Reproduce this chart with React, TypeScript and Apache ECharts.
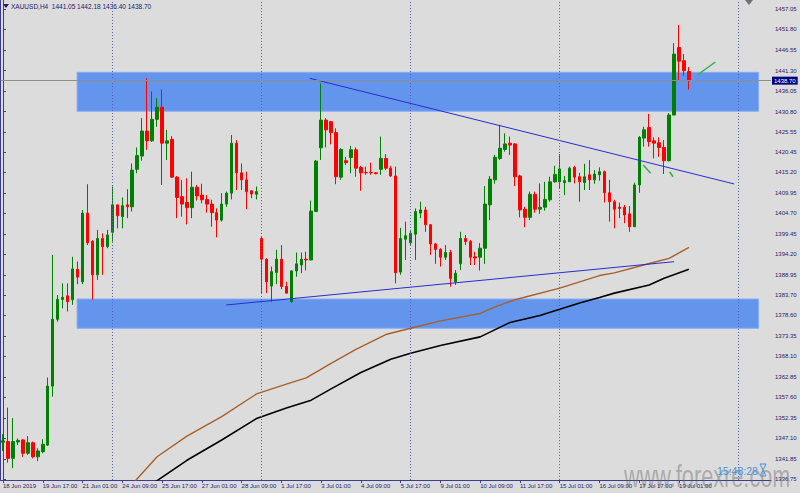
import React, { useEffect, useRef } from "react";
import * as echarts from "echarts";

// ---------- data ----------
const BAR_SLOTS = 155; // 139 H4 bars + empty shift area on the right

const xLabels = [
  "18 Jun 2019", "19 Jun 17:00", "21 Jun 01:00", "24 Jun 09:00", "25 Jun 17:00",
  "27 Jun 01:00", "28 Jun 09:00", "1 Jul 17:00", "3 Jul 01:00", "4 Jul 09:00",
  "5 Jul 17:00", "9 Jul 01:00", "10 Jul 09:00", "11 Jul 17:00", "15 Jul 01:00",
  "16 Jul 09:00", "17 Jul 17:00", "19 Jul 01:00",
];

const yTicks = [
  1457.05, 1451.8, 1446.55, 1441.3, 1436.05, 1430.8, 1425.55, 1420.45, 1415.2,
  1409.95, 1404.7, 1399.45, 1394.2, 1388.95, 1383.7, 1378.6, 1373.35, 1368.1,
  1362.85, 1357.6, 1352.35, 1347.1, 1341.85, 1336.75,
];
const Y_MIN = 1336.46;
const Y_MAX = 1459.35;

// [open, high, low, close]
const ohlc: number[][] = [
  [1346.1, 1348.2, 1343.9, 1346.5], [1346.3, 1355.0, 1340.9, 1342.0], [1342.0, 1352.3, 1339.5, 1346.3],
  [1346.2, 1347.1, 1345.4, 1346.6], [1346.7, 1347.0, 1342.4, 1343.3], [1343.3, 1347.7, 1342.9, 1346.0],
  [1346.0, 1346.3, 1342.0, 1342.4], [1342.4, 1344.6, 1341.3, 1343.9], [1343.7, 1346.9, 1343.3, 1345.6],
  [1345.4, 1362.7, 1345.2, 1360.5], [1360.5, 1394.1, 1357.8, 1377.6], [1377.6, 1383.8, 1377.0, 1382.7],
  [1382.7, 1386.8, 1380.4, 1383.2], [1383.6, 1386.8, 1379.6, 1382.1], [1382.6, 1393.6, 1381.3, 1390.5],
  [1390.4, 1392.4, 1386.6, 1388.4], [1387.2, 1405.6, 1386.6, 1404.8], [1404.8, 1412.2, 1396.6, 1397.2],
  [1397.5, 1397.9, 1382.6, 1389.0], [1389.0, 1400.5, 1387.7, 1398.3], [1398.3, 1399.6, 1389.0, 1396.2],
  [1396.2, 1400.5, 1395.8, 1399.2], [1399.9, 1411.6, 1397.5, 1406.9], [1406.9, 1406.9, 1400.9, 1404.1],
  [1403.9, 1408.8, 1400.9, 1406.7], [1406.9, 1410.9, 1403.5, 1406.4], [1406.4, 1417.5, 1405.2, 1415.8],
  [1416.0, 1421.6, 1415.0, 1419.5], [1419.4, 1429.1, 1418.2, 1425.8], [1425.8, 1439.3, 1421.0, 1423.3],
  [1423.3, 1435.9, 1423.0, 1428.8], [1428.8, 1434.2, 1426.9, 1431.9], [1431.9, 1436.5, 1412.0, 1422.7],
  [1422.7, 1426.1, 1418.4, 1423.3], [1423.7, 1424.5, 1413.8, 1414.0], [1414.0, 1414.3, 1403.5, 1408.8],
  [1409.0, 1413.3, 1403.9, 1407.1], [1407.5, 1413.7, 1401.9, 1406.2], [1406.2, 1415.4, 1403.5, 1411.4],
  [1411.4, 1412.0, 1408.0, 1409.2], [1409.4, 1412.3, 1407.3, 1408.2], [1408.3, 1409.4, 1404.9, 1407.1],
  [1407.1, 1408.2, 1401.3, 1404.9], [1404.9, 1406.0, 1398.6, 1403.0], [1403.0, 1409.9, 1402.6, 1407.1],
  [1407.1, 1410.3, 1406.4, 1409.9], [1409.9, 1424.8, 1408.3, 1422.7], [1422.7, 1423.5, 1410.7, 1415.1],
  [1415.1, 1417.5, 1410.7, 1413.3], [1413.3, 1415.4, 1405.8, 1410.3], [1410.5, 1410.6, 1408.6, 1409.7],
  [1409.6, 1411.6, 1408.3, 1410.3], [1398.3, 1398.9, 1384.3, 1393.0], [1393.0, 1393.2, 1384.3, 1387.2],
  [1386.1, 1391.1, 1382.1, 1389.8], [1389.6, 1395.4, 1386.6, 1393.0], [1393.0, 1396.6, 1385.3, 1386.0],
  [1386.0, 1387.2, 1384.2, 1384.3], [1382.1, 1390.1, 1381.9, 1390.0], [1390.0, 1394.7, 1388.5, 1391.8],
  [1391.5, 1394.7, 1389.4, 1393.0], [1393.0, 1394.9, 1390.1, 1392.8], [1392.8, 1408.0, 1392.7, 1405.3],
  [1405.2, 1418.4, 1405.1, 1418.1], [1421.5, 1438.0, 1418.4, 1428.6], [1428.6, 1429.1, 1421.6, 1426.1],
  [1428.2, 1428.4, 1422.4, 1425.4], [1425.4, 1426.5, 1412.2, 1414.1], [1414.0, 1421.4, 1413.3, 1421.1],
  [1418.2, 1419.2, 1417.1, 1417.7], [1419.0, 1422.0, 1415.0, 1421.0], [1421.0, 1421.6, 1414.1, 1416.3],
  [1416.5, 1416.9, 1410.5, 1415.1], [1415.2, 1416.7, 1414.6, 1415.1], [1415.2, 1417.7, 1414.6, 1415.1],
  [1415.1, 1415.3, 1414.7, 1414.9], [1416.0, 1424.4, 1414.6, 1418.8], [1418.8, 1419.9, 1415.8, 1416.3],
  [1416.3, 1416.9, 1414.1, 1414.3], [1414.3, 1416.7, 1386.8, 1389.5], [1389.7, 1401.0, 1389.0, 1398.3],
  [1398.1, 1402.6, 1392.8, 1399.0], [1397.2, 1400.5, 1396.6, 1399.6], [1399.4, 1406.0, 1392.8, 1405.2],
  [1404.8, 1407.7, 1403.5, 1405.6], [1405.6, 1406.4, 1400.0, 1401.8], [1401.8, 1402.0, 1394.1, 1396.9],
  [1396.9, 1397.2, 1391.8, 1395.5], [1395.5, 1395.8, 1391.1, 1393.5], [1393.5, 1396.6, 1392.8, 1394.7],
  [1394.7, 1395.4, 1386.0, 1388.1], [1387.2, 1390.2, 1386.4, 1389.4], [1391.8, 1400.0, 1390.2, 1398.3],
  [1398.3, 1399.2, 1396.6, 1397.5], [1397.5, 1397.9, 1391.5, 1393.5], [1393.6, 1394.9, 1391.5, 1393.3],
  [1393.5, 1397.1, 1390.1, 1395.8], [1395.8, 1411.7, 1391.8, 1407.1], [1406.9, 1414.3, 1403.0, 1413.5],
  [1413.3, 1419.7, 1412.3, 1419.1], [1418.8, 1427.4, 1418.4, 1421.4], [1421.1, 1425.2, 1420.5, 1422.5],
  [1422.7, 1424.4, 1419.7, 1422.2], [1422.5, 1422.7, 1411.7, 1414.1], [1414.3, 1414.6, 1403.7, 1405.6],
  [1405.8, 1406.4, 1401.2, 1403.7], [1403.7, 1410.3, 1403.0, 1409.6], [1409.6, 1410.3, 1404.9, 1405.8],
  [1405.8, 1412.4, 1404.6, 1406.3], [1406.3, 1412.8, 1405.4, 1408.3], [1408.2, 1414.1, 1407.7, 1412.8],
  [1412.8, 1416.9, 1412.6, 1414.7], [1412.8, 1419.9, 1411.1, 1416.1], [1412.6, 1414.3, 1409.4, 1413.1],
  [1412.8, 1416.7, 1412.8, 1416.3], [1416.5, 1416.9, 1412.4, 1414.0], [1414.1, 1415.1, 1407.7, 1412.8],
  [1412.6, 1417.4, 1410.7, 1414.1], [1414.6, 1418.4, 1410.7, 1413.3], [1413.3, 1415.8, 1412.3, 1414.8],
  [1414.6, 1416.5, 1413.1, 1415.4], [1415.4, 1415.7, 1407.5, 1410.0], [1410.0, 1413.3, 1402.6, 1407.7],
  [1407.7, 1408.2, 1400.9, 1405.8], [1406.3, 1407.5, 1403.5, 1406.0], [1406.3, 1406.9, 1402.2, 1404.3],
  [1404.6, 1406.6, 1400.0, 1401.3], [1401.3, 1412.6, 1401.3, 1412.0], [1412.0, 1424.5, 1410.0, 1424.2],
  [1424.0, 1426.9, 1421.8, 1426.1], [1426.7, 1430.2, 1421.8, 1423.1], [1423.3, 1424.2, 1418.8, 1422.7],
  [1422.8, 1424.2, 1419.2, 1421.6], [1421.6, 1423.5, 1414.8, 1418.2], [1418.2, 1430.4, 1418.0, 1429.9],
  [1429.9, 1448.3, 1429.9, 1445.5], [1447.2, 1453.0, 1438.7, 1443.7], [1443.8, 1445.5, 1439.9, 1441.25],
  [1441.05, 1442.18, 1436.4, 1438.7],
];

// moving averages read at sample bars: [bar index, price]
const maBrown: number[][] = [
  [26, 1335.4], [27, 1336.8], [31, 1342.4], [37, 1347.7], [44, 1352.7], [51, 1358.5], [57, 1361.0],
  [61, 1362.6], [66, 1366.3], [71, 1369.9], [77, 1373.7], [82, 1375.3], [88, 1377.2], [96, 1379.1],
  [99, 1380.8], [103, 1382.6], [112, 1385.6], [120, 1388.8], [123, 1389.5], [130, 1391.9],
  [134, 1393.2], [138, 1396.0],
];
const maBlack: number[][] = [
  [30, 1335.4], [31, 1336.3], [37, 1341.5], [44, 1346.7], [51, 1352.2], [57, 1354.9], [62, 1356.9],
  [66, 1359.8], [72, 1364.0], [78, 1367.4], [82, 1368.9], [88, 1370.9], [96, 1373.1], [102, 1376.8],
  [108, 1378.6], [116, 1381.8], [120, 1383.2], [123, 1384.3], [130, 1386.4], [133, 1388.1],
  [138, 1390.4],
];

const trendDown: number[][] = [[61.7, 1439.3], [147.1, 1412.25]];
const trendUp: number[][] = [[44.9, 1381.27], [135.0, 1392.35]];

// supply / demand zones: [start bar, end bar, top price, bottom price]
const zones: number[][] = [
  [14.9, 152.0, 1440.84, 1430.86],
  [14.9, 152.0, 1382.8, 1375.3],
];

const separators = [22, 52, 82, 112, 148];
const lastPrice = 1438.7;

// arrows: [tail bar, tail price, head bar, head price]
const arrows: number[][] = [
  [143.3, 1443.48, 139.7, 1440.15],
  [130.3, 1414.98, 128.8, 1417.11],
  [134.8, 1414.11, 134.1, 1415.39],
];

// ---------- styling ----------
const BG = "#DCDCDC";
const AXIS = "#3b3b94";
const LABEL = "#23236e";
const FONT = "Liberation Sans";

export default function App() {
  const ref = useRef<HTMLDivElement>(null);

  useEffect(() => {
    document.body.style.margin = "0";
    const chart = echarts.init(ref.current!, null, { renderer: "svg" });
    const categories = Array.from({ length: BAR_SLOTS }, (_, i) => String(i));
    const showLabel = (i: number) => i % 8 === 0 && i / 8 < xLabels.length;

    const option: any = {
      animation: false,
      backgroundColor: BG,
      grid: { left: 0, right: 29, top: 0, bottom: 13, containLabel: false },
      xAxis: [
        {
          type: "category",
          data: categories,
          boundaryGap: true,
          axisLine: { show: true, lineStyle: { color: AXIS, width: 1 } },
          axisTick: {
            show: true,
            interval: (i: number) => showLabel(i),
            alignWithLabel: true,
            length: 3,
            lineStyle: { color: AXIS },
          },
          axisLabel: {
            show: true,
            interval: (i: number) => showLabel(i),
            formatter: (v: string) => xLabels[Number(v) / 8] ?? "",
            align: "left",
            margin: 3,
            fontSize: 6,
            color: LABEL,
            fontFamily: FONT,
          },
          splitLine: { show: false },
        },
        { type: "value", min: -0.5, max: BAR_SLOTS - 0.5, show: false },
      ],
      yAxis: [
        {
          type: "value",
          position: "right",
          min: Y_MIN,
          max: Y_MAX,
          axisLine: { show: true, lineStyle: { color: AXIS, width: 1 } },
          axisTick: { show: true, customValues: yTicks, length: 3, lineStyle: { color: AXIS } },
          axisLabel: {
            customValues: yTicks,
            formatter: (v: number) => v.toFixed(2),
            fontSize: 6,
            margin: 4,
            color: LABEL,
            fontFamily: FONT,
          },
          splitLine: { show: false },
        },
        {
          type: "value",
          position: "left",
          min: Y_MIN,
          max: Y_MAX,
          axisLine: { show: true, lineStyle: { color: AXIS, width: 1 } },
          axisTick: { show: false },
          axisLabel: { show: false },
          splitLine: { show: false },
        },
      ],
      series: [
        {
          name: "zones",
          type: "line",
          xAxisIndex: 1,
          yAxisIndex: 0,
          data: [[-10, 1300]],
          showSymbol: false,
          lineStyle: { opacity: 0 },
          silent: true,
          markArea: {
            silent: true,
            itemStyle: { color: "#6495ED", borderColor: "#8aadf2", borderWidth: 1 },
            data: zones.map((z) => [{ coord: [z[0], z[2]] }, { coord: [z[1], z[3]] }]),
          },
          markLine: {
            silent: true,
            symbol: ["none", "none"],
            data: [
              ...separators.map((s) => ({
                xAxis: s,
                lineStyle: { type: [1, 2], color: "#5c5cbc", width: 1 },
                label: { show: false },
              })),
              {
                yAxis: lastPrice,
                lineStyle: { type: "solid", color: "#8e8e8e", width: 1 },
                label: {
                  show: true,
                  position: "end",
                  distance: 1,
                  formatter: lastPrice.toFixed(2),
                  backgroundColor: "#000080",
                  color: "#ffffff",
                  fontSize: 6,
                  fontFamily: FONT,
                  padding: [1, 2, 1, 2],
                },
              },
            ],
          },
        },
        {
          name: "XAUUSD",
          type: "candlestick",
          xAxisIndex: 0,
          yAxisIndex: 0,
          barWidth: 3,
          z: 3,
          data: ohlc.map(([o, h, l, c]) => [o, c, l, h]),
          itemStyle: {
            color: "#008000",
            color0: "#ff0000",
            borderColor: "#008000",
            borderColor0: "#ff0000",
            borderWidth: 1,
          },
        },
        {
          name: "MA slow",
          type: "line",
          xAxisIndex: 1,
          data: maBrown,
          showSymbol: false,
          z: 4,
          lineStyle: { color: "#a8602a", width: 1.4 },
        },
        {
          name: "MA fast",
          type: "line",
          xAxisIndex: 1,
          data: maBlack,
          showSymbol: false,
          z: 4,
          lineStyle: { color: "#000000", width: 1.6 },
        },
        {
          name: "trend down",
          type: "line",
          xAxisIndex: 1,
          data: trendDown,
          showSymbol: false,
          z: 4,
          lineStyle: { color: "#2b2bd0", width: 1 },
        },
        {
          name: "trend up",
          type: "line",
          xAxisIndex: 1,
          data: trendUp,
          showSymbol: false,
          z: 4,
          lineStyle: { color: "#2b2bd0", width: 1 },
        },
        {
          name: "arrows",
          type: "line",
          xAxisIndex: 1,
          data: [[-10, 1300]],
          showSymbol: false,
          lineStyle: { opacity: 0 },
          silent: true,
          markLine: {
            silent: true,
            symbol: ["none", "arrow"],
            symbolSize: [0, 6],
            lineStyle: { type: "solid", color: "#2fb04c", width: 1.5 },
            label: { show: false },
            data: arrows.map((a) => [{ coord: [a[0], a[1]] }, { coord: [a[2], a[3]] }]),
          },
        },
      ],
      graphic: [
        { type: "polygon", shape: { points: [[3, 4], [9, 4], [6, 8]] }, style: { fill: "#1a1a6e" } },
        {
          type: "text",
          x: 11,
          y: 2.5,
          style: {
            text: "XAUUSD,H4  1441.05 1442.18 1436.40 1438.70",
            fontSize: 6.5,
            fill: "#1a1a6e",
            fontFamily: FONT,
            verticalAlign: "top",
          },
        },
        { type: "polygon", shape: { points: [[745, 0], [753, 0], [749, 5]] }, style: { fill: "#707070" } },
        {
          type: "text",
          x: 624,
          y: 492,
          scaleX: 0.7,
          style: {
            text: "www.forexre.com",
            fontSize: 31,
            fill: "rgba(100,100,100,0.42)",
            fontFamily: FONT,
            verticalAlign: "bottom",
          },
          z: 100,
        },
        {
          type: "text",
          x: 717,
          y: 465,
          style: {
            text: "15:48:28",
            fontSize: 10.5,
            fill: "#4a90e2",
            fontFamily: FONT,
            verticalAlign: "top",
          },
          z: 101,
        },
        {
          type: "polygon",
          shape: { points: [[760, 464], [766, 464], [763, 470], [766, 476], [760, 476], [763, 470]] },
          style: { fill: "none", stroke: "#4a90e2", lineWidth: 1 },
          z: 101,
        },
      ],
    };

    chart.setOption(option);
    return () => chart.dispose();
  }, []);

  return <div ref={ref} style={{ width: 800, height: 493, background: BG }} />;
}
